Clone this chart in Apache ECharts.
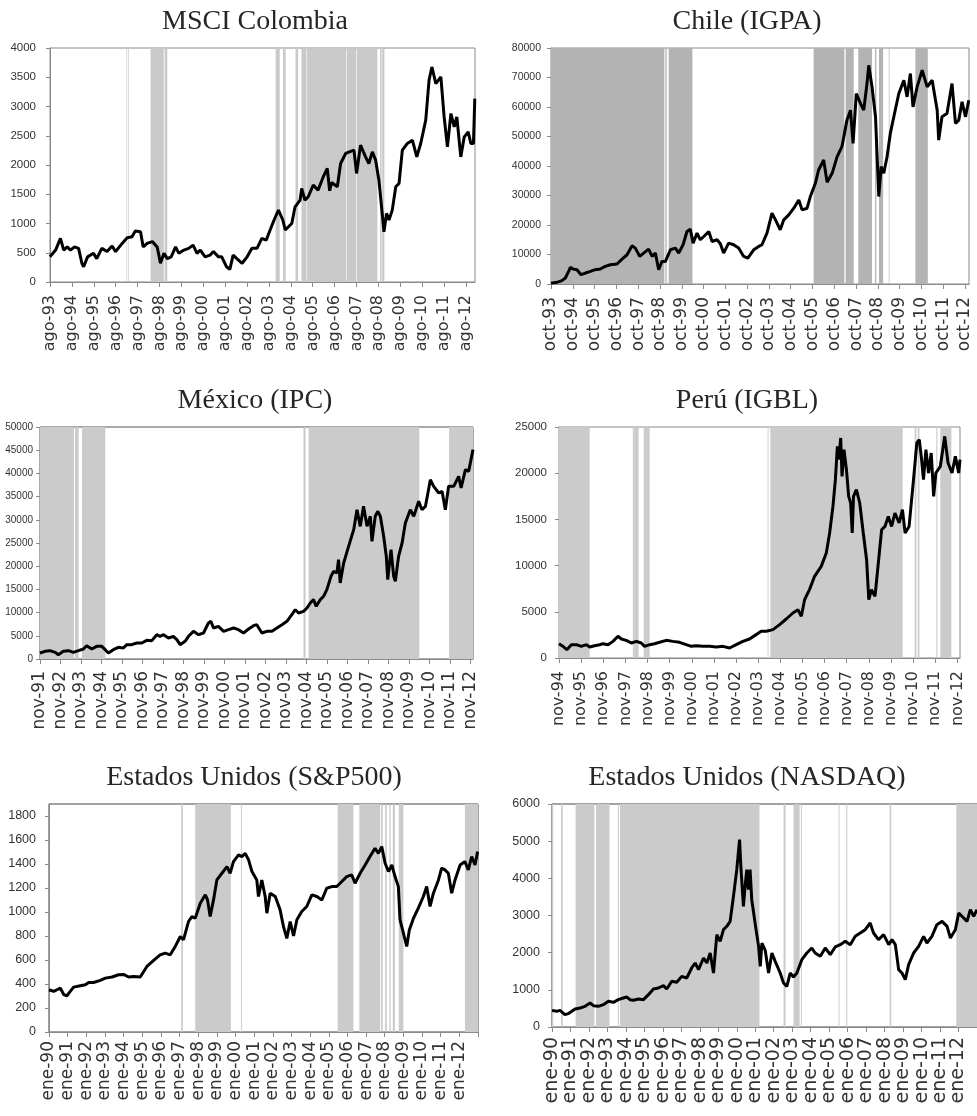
<!DOCTYPE html>
<html>
<head>
<meta charset="utf-8">
<script src="https://cdn.jsdelivr.net/npm/echarts@6/dist/echarts.min.js"></script>
<style>
html, body { margin: 0; padding: 0; background: #fff; }
#chart { width: 977px; height: 1116px; }
</style>
</head>
<body>
<div id="chart"></div>
<script>
// values: [decimal year, index level]
const colombiaLine = [[1993.58,432],[1993.84,546],[1994.06,745],[1994.21,546],[1994.37,600],[1994.52,546],[1994.70,600],[1994.89,575],[1995.04,320],[1995.12,260],[1995.30,430],[1995.57,490],[1995.72,400],[1995.95,575],[1996.19,520],[1996.42,615],[1996.58,520],[1996.88,660],[1997.11,757],[1997.33,775],[1997.48,870],[1997.72,860],[1997.84,600],[1998.02,660],[1998.26,690],[1998.48,600],[1998.63,320],[1998.79,490],[1998.94,400],[1999.12,430],[1999.32,600],[1999.47,490],[1999.70,546],[1999.92,575],[2000.12,630],[2000.30,490],[2000.45,546],[2000.67,430],[2000.90,460],[2001.05,520],[2001.28,430],[2001.43,430],[2001.65,260],[2001.80,215],[2001.95,460],[2002.12,400],[2002.36,320],[2002.59,430],[2002.81,575],[2003.04,575],[2003.26,745],[2003.46,715],[2003.64,890],[2003.82,1060],[2004.02,1230],[2004.22,1060],[2004.33,890],[2004.48,945],[2004.63,1000],[2004.78,1285],[2005.01,1400],[2005.08,1600],[2005.23,1400],[2005.38,1457],[2005.61,1656],[2005.83,1570],[2006.07,1800],[2006.25,1940],[2006.36,1560],[2006.45,1700],[2006.71,1627],[2006.86,2026],[2007.09,2197],[2007.47,2253],[2007.59,1856],[2007.77,2339],[2008.00,2139],[2008.15,2026],[2008.31,2225],[2008.46,2083],[2008.61,1741],[2008.76,1173],[2008.84,859],[2008.96,1173],[2009.07,1058],[2009.22,1229],[2009.38,1627],[2009.53,1685],[2009.68,2253],[2009.91,2368],[2010.14,2424],[2010.34,2139],[2010.52,2368],[2010.75,2766],[2010.90,3448],[2011.03,3676],[2011.21,3392],[2011.44,3505],[2011.59,2822],[2011.74,2310],[2011.90,2880],[2012.05,2651],[2012.17,2822],[2012.35,2139],[2012.51,2481],[2012.69,2566],[2012.81,2368],[2012.93,2368],[2012.99,3135]];
const colombiaBands = [[1997.08,1997.11],[1997.15,1997.18],[1998.18,1998.78],[1998.82,1998.94],[2003.89,2004.08],[2004.23,2004.35],[2004.80,2004.92],[2005.07,2005.30],[2005.33,2007.12],[2007.15,2007.58],[2007.61,2008.54],[2008.66,2008.73],[2008.76,2008.86]];
const colombiaLabels = ['ago-93','ago-94','ago-95','ago-96','ago-97','ago-98','ago-99','ago-00','ago-01','ago-02','ago-03','ago-04','ago-05','ago-06','ago-07','ago-08','ago-09','ago-10','ago-11','ago-12'];

const chileLine = [[1993.75,300],[1994.03,560],[1994.25,1130],[1994.41,2030],[1994.56,4280],[1994.64,5630],[1994.76,5070],[1994.94,4850],[1995.13,3150],[1995.33,3720],[1995.56,4280],[1995.78,4850],[1996.01,5070],[1996.24,5970],[1996.47,6535],[1996.78,6760],[1997.01,8450],[1997.24,9915],[1997.47,12960],[1997.62,12170],[1997.82,9350],[1998.00,10480],[1998.23,11830],[1998.39,9350],[1998.54,10480],[1998.69,4850],[1998.84,7660],[1999.00,7660],[1999.23,11600],[1999.46,12170],[1999.61,10480],[1999.81,13300],[1999.99,17800],[2000.14,18590],[2000.27,13860],[2000.45,17240],[2000.60,14990],[2000.76,16110],[2000.99,17800],[2001.14,14420],[2001.37,14990],[2001.52,13630],[2001.67,10480],[2001.90,13860],[2002.13,13300],[2002.36,12170],[2002.59,9350],[2002.78,8790],[2003.05,11600],[2003.28,12730],[2003.43,13300],[2003.66,17240],[2003.89,24000],[2004.05,21750],[2004.27,18370],[2004.43,21750],[2004.66,23440],[2004.89,25690],[2005.12,28500],[2005.27,25130],[2005.50,25690],[2005.65,29640],[2005.88,34140],[2006.03,38650],[2006.26,42030],[2006.42,34500],[2006.65,37520],[2006.88,43160],[2007.10,46540],[2007.33,55550],[2007.49,58930],[2007.61,47660],[2007.76,64570],[2007.95,61190],[2008.10,58930],[2008.25,67950],[2008.33,74140],[2008.48,66820],[2008.64,56680],[2008.79,29640],[2008.90,39780],[2009.02,37520],[2009.17,43160],[2009.32,51040],[2009.48,56680],[2009.71,64570],[2009.94,69070],[2010.09,63440],[2010.24,71330],[2010.36,60060],[2010.55,66820],[2010.78,72450],[2011.01,66820],[2011.24,69070],[2011.47,58930],[2011.54,48790],[2011.69,56680],[2011.92,57810],[2012.15,67950],[2012.31,54420],[2012.46,55550],[2012.61,61750],[2012.77,56680],[2012.92,62310]];
const chileBands = [[1993.75,1998.95],[1999.00,1999.06],[1999.15,2000.24],[2005.80,2007.21],[2007.27,2007.64],[2007.85,2008.48],[2008.62,2008.68],[2008.80,2008.99],[2009.25,2009.28],[2010.47,2011.04]];
const chileLabels = ['oct-93','oct-94','oct-95','oct-96','oct-97','oct-98','oct-99','oct-00','oct-01','oct-02','oct-03','oct-04','oct-05','oct-06','oct-07','oct-08','oct-09','oct-10','oct-11','oct-12'];

const mexicoLine = [[1991.83,1290],[1992.08,1650],[1992.32,1800],[1992.57,1440],[1992.73,930],[1992.97,1650],[1993.22,1800],[1993.46,1440],[1993.71,1800],[1993.95,2150],[1994.11,2870],[1994.36,2150],[1994.60,2730],[1994.85,2730],[1995.01,2010],[1995.17,1290],[1995.41,2010],[1995.66,2510],[1995.90,2370],[1996.07,3090],[1996.31,3090],[1996.55,3450],[1996.80,3450],[1997.04,4020],[1997.29,3950],[1997.53,5240],[1997.69,4890],[1997.86,5240],[1998.10,4530],[1998.34,4890],[1998.51,4170],[1998.67,3090],[1998.91,3810],[1999.08,4890],[1999.32,5960],[1999.57,5240],[1999.81,5600],[2000.05,7760],[2000.17,8120],[2000.30,6680],[2000.54,7040],[2000.79,5960],[2001.03,6320],[2001.28,6680],[2001.52,6320],[2001.76,5600],[2002.01,6470],[2002.25,7180],[2002.41,7400],[2002.66,5600],[2002.90,5960],[2003.15,5960],[2003.39,6680],[2003.64,7400],[2003.88,8120],[2004.12,9550],[2004.29,10630],[2004.45,9910],[2004.69,10270],[2004.86,10990],[2005.02,12070],[2005.18,12790],[2005.31,11350],[2005.51,12790],[2005.67,13510],[2005.83,14940],[2006.03,17820],[2006.16,18890],[2006.32,18530],[2006.40,21410],[2006.48,16380],[2006.65,20690],[2006.89,24280],[2007.14,27870],[2007.30,32180],[2007.46,28590],[2007.62,32900],[2007.79,28590],[2007.95,30750],[2008.03,25360],[2008.19,30750],[2008.32,31830],[2008.44,30750],[2008.60,26440],[2008.73,22130],[2008.80,17100],[2008.96,23560],[2009.09,17820],[2009.17,16740],[2009.33,22130],[2009.50,25000],[2009.66,29310],[2009.90,32180],[2010.07,30750],[2010.31,33980],[2010.47,32180],[2010.64,32900],[2010.88,38650],[2011.04,37220],[2011.29,35780],[2011.45,36140],[2011.61,32180],[2011.77,37220],[2012.02,37220],[2012.26,39370],[2012.38,36860],[2012.59,40810],[2012.75,40450],[2012.96,45120]];
const mexicoBands = [[1991.83,1993.49],[1993.54,1993.72],[1993.88,1995.02],[2004.69,2004.79],[2004.94,2010.34],[2011.79,2012.96]];
const mexicoLabels = ['nov-91','nov-92','nov-93','nov-94','nov-95','nov-96','nov-97','nov-98','nov-99','nov-00','nov-01','nov-02','nov-03','nov-04','nov-05','nov-06','nov-07','nov-08','nov-09','nov-10','nov-11','nov-12'];

const peruLine = [[1994.83,1550],[1995.01,1260],[1995.19,900],[1995.39,1440],[1995.62,1440],[1995.84,1260],[1996.07,1440],[1996.22,1190],[1996.44,1330],[1996.67,1440],[1996.82,1550],[1997.05,1440],[1997.27,1800],[1997.50,2350],[1997.65,2060],[1997.87,1910],[1998.10,1620],[1998.33,1800],[1998.55,1620],[1998.70,1260],[1998.93,1440],[1999.15,1550],[1999.38,1700],[1999.68,1910],[1999.98,1800],[2000.28,1700],[2000.58,1440],[2000.81,1260],[2001.03,1330],[2001.34,1260],[2001.64,1260],[2001.94,1190],[2002.24,1260],[2002.54,1080],[2002.84,1440],[2003.14,1800],[2003.44,2060],[2003.74,2530],[2003.97,2890],[2004.20,2890],[2004.50,3070],[2004.80,3610],[2005.10,4220],[2005.40,4870],[2005.63,5230],[2005.78,4510],[2005.93,6310],[2006.15,7400],[2006.38,8840],[2006.68,9913],[2006.91,11364],[2007.06,13528],[2007.21,16407],[2007.32,19297],[2007.41,22900],[2007.47,21461],[2007.56,23810],[2007.62,19654],[2007.71,22543],[2007.82,20379],[2007.92,17489],[2008.01,16775],[2008.08,13528],[2008.14,17489],[2008.27,18214],[2008.42,16775],[2008.58,13528],[2008.73,10638],[2008.83,6310],[2008.95,7392],[2009.11,6667],[2009.26,10281],[2009.41,13885],[2009.56,14242],[2009.71,15325],[2009.86,14242],[2010.01,15692],[2010.20,14610],[2010.35,16050],[2010.47,13528],[2010.65,14242],[2010.85,19297],[2011.00,23268],[2011.11,23629],[2011.20,21821],[2011.30,19297],[2011.41,22543],[2011.53,20021],[2011.65,22186],[2011.76,17489],[2011.86,20021],[2012.06,20735],[2012.26,23990],[2012.41,21100],[2012.59,20021],[2012.74,21821],[2012.89,20021],[2012.95,21461]];
const peruBands = [[1994.83,1996.22],[1998.17,1998.22],[1998.23,1998.43],[1998.66,1998.93],[2004.26,2004.30],[2004.38,2010.36],[2010.90,2010.98],[2011.04,2011.12],[2011.88,2011.93],[2012.06,2012.56]];
const peruLabels = ['nov-94','nov-95','nov-96','nov-97','nov-98','nov-99','nov-00','nov-01','nov-02','nov-03','nov-04','nov-05','nov-06','nov-07','nov-08','nov-09','nov-10','nov-11','nov-12'];

const spLine = [[1990.00,352],[1990.25,338],[1990.43,352],[1990.61,366],[1990.79,311],[1990.96,302],[1991.14,338],[1991.32,374],[1991.68,386],[1991.95,394],[1992.13,413],[1992.39,413],[1992.75,430],[1993.02,449],[1993.38,458],[1993.73,477],[1994.00,480],[1994.27,458],[1994.54,463],[1994.89,458],[1995.25,546],[1995.61,596],[1995.96,643],[1996.23,657],[1996.50,643],[1996.77,713],[1997.04,796],[1997.21,768],[1997.48,921],[1997.66,962],[1997.84,948],[1998.11,1073],[1998.38,1143],[1998.50,1101],[1998.64,962],[1998.82,1101],[1999.00,1267],[1999.27,1323],[1999.54,1378],[1999.71,1323],[1999.89,1420],[2000.16,1476],[2000.34,1462],[2000.52,1489],[2000.70,1434],[2000.88,1337],[2001.14,1267],[2001.23,1129],[2001.41,1267],[2001.59,1129],[2001.68,990],[2001.86,1157],[2002.13,1129],[2002.39,1018],[2002.57,879],[2002.75,780],[2002.93,921],[2003.11,800],[2003.29,935],[2003.55,1004],[2003.82,1046],[2004.09,1143],[2004.36,1129],[2004.63,1101],[2004.89,1198],[2005.16,1212],[2005.43,1212],[2005.70,1254],[2005.96,1295],[2006.23,1309],[2006.41,1240],[2006.68,1323],[2006.95,1392],[2007.21,1462],[2007.48,1531],[2007.66,1489],[2007.84,1545],[2008.02,1406],[2008.20,1337],[2008.38,1392],[2008.55,1295],[2008.73,1212],[2008.82,935],[2009.00,824],[2009.18,713],[2009.32,851],[2009.54,948],[2009.80,1032],[2010.07,1129],[2010.25,1212],[2010.43,1046],[2010.61,1157],[2010.88,1267],[2011.05,1365],[2011.23,1351],[2011.41,1323],[2011.59,1157],[2011.77,1267],[2012.04,1392],[2012.30,1420],[2012.48,1351],[2012.66,1462],[2012.84,1392],[2012.98,1503]];
const spBands = [[1997.09,1997.18],[1997.84,1999.75],[2000.29,2000.34],[2005.48,2006.32],[2006.64,2007.75],[2007.80,2007.89],[2008.02,2008.11],[2008.25,2008.32],[2008.43,2008.55],[2008.75,2009.00],[2012.30,2013.00]];
const spLabels = ['ene-90','ene-91','ene-92','ene-93','ene-94','ene-95','ene-96','ene-97','ene-98','ene-99','ene-00','ene-01','ene-02','ene-03','ene-04','ene-05','ene-06','ene-07','ene-08','ene-09','ene-10','ene-11','ene-12'];

const nasdaqLine = [[1990.00,448],[1990.25,422],[1990.43,448],[1990.52,484],[1990.70,332],[1990.88,359],[1991.07,422],[1991.25,484],[1991.52,511],[1991.79,556],[1992.06,646],[1992.24,574],[1992.51,556],[1992.78,601],[1993.05,691],[1993.32,664],[1993.59,735],[1993.86,780],[1994.04,807],[1994.22,735],[1994.41,718],[1994.68,753],[1994.95,735],[1995.22,870],[1995.49,1022],[1995.76,1049],[1996.03,1112],[1996.21,1022],[1996.48,1229],[1996.75,1202],[1997.02,1363],[1997.29,1318],[1997.56,1588],[1997.75,1722],[1997.93,1543],[1998.20,1857],[1998.38,1722],[1998.56,1991],[1998.74,1453],[1998.92,2484],[1999.10,2305],[1999.28,2619],[1999.46,2709],[1999.64,2843],[1999.82,3516],[2000.00,4233],[2000.15,5041],[2000.22,4323],[2000.36,3247],[2000.45,3785],[2000.54,4233],[2000.63,3695],[2000.72,4233],[2000.81,3426],[2000.99,2798],[2001.18,2170],[2001.27,1632],[2001.36,2260],[2001.54,2063],[2001.72,1453],[2001.90,1991],[2002.08,1767],[2002.35,1453],[2002.53,1184],[2002.71,1094],[2002.89,1453],[2003.07,1345],[2003.25,1453],[2003.52,1812],[2003.79,1991],[2004.06,2126],[2004.24,1991],[2004.52,1901],[2004.79,2126],[2005.06,1946],[2005.33,2153],[2005.60,2215],[2005.87,2305],[2006.14,2215],[2006.41,2440],[2006.68,2529],[2006.95,2619],[2007.22,2798],[2007.40,2529],[2007.67,2350],[2007.95,2484],[2008.22,2215],[2008.40,2350],[2008.58,2215],[2008.76,1543],[2008.94,1453],[2009.12,1274],[2009.30,1677],[2009.57,1991],[2009.84,2170],[2010.11,2440],[2010.29,2260],[2010.56,2440],[2010.83,2753],[2011.11,2843],[2011.38,2709],[2011.56,2395],[2011.83,2619],[2012.01,3067],[2012.28,2933],[2012.46,2843],[2012.64,3157],[2012.82,2978],[2013.00,3157]];
const nasdaqBands = [[1990.00,1990.07],[1990.49,1990.58],[1991.28,1992.29],[1992.38,1993.11],[1993.56,1993.62],[1993.68,2001.23],[2002.53,2002.64],[2003.07,2003.40],[2003.47,2003.52],[2005.51,2005.56],[2005.92,2005.98],[2008.27,2008.36],[2011.88,2013.00]];
const nasdaqLabels = spLabels;

const SANS = '"Liberation Sans", Arial, sans-serif';

const panels = [
  { title: 'MSCI Colombia', line: colombiaLine, bands: colombiaBands, labels: colombiaLabels,
    xMin: 1993 + 7 / 12, xMax: 2013.0, yMax: 4000, yStep: 500, bandColor: '#c9c9c9', border: '#8a8a8a',
    box: [50, 48, 425, 234], titleAt: [255, 22], xFont: 16, xMargin: 13, yFont: 11.5, yMargin: 14 },
  { title: 'Chile (IGPA)', line: chileLine, bands: chileBands, labels: chileLabels,
    xMin: 1993 + 9 / 12, xMax: 2012.93, yMax: 80000, yStep: 10000, bandColor: '#b3b3b3', border: '#8a8a8a',
    box: [551, 48, 418, 236], titleAt: [747, 22], xFont: 17, xMargin: 13, yFont: 10.5, yMargin: 10 },
  { title: 'México (IPC)', line: mexicoLine, bands: mexicoBands, labels: mexicoLabels,
    xMin: 1991 + 10 / 12, xMax: 2012.96, yMax: 50000, yStep: 5000, bandColor: '#cbcbcb', border: '#555555',
    box: [40, 427, 433, 232], titleAt: [255, 401], xFont: 17, xMargin: 12, yFont: 10, yMargin: 7 },
  { title: 'Perú (IGBL)', line: peruLine, bands: peruBands, labels: peruLabels,
    xMin: 1994 + 10 / 12, xMax: 2012.95, yMax: 25000, yStep: 5000, bandColor: '#cbcbcb', border: '#8a8a8a',
    box: [559, 427, 401, 231], titleAt: [747, 401], xFont: 16, xMargin: 13, yFont: 11.5, yMargin: 12 },
  { title: 'Estados Unidos (S&P500)', line: spLine, bands: spBands, labels: spLabels,
    xMin: 1990, xMax: 2013, yMax: 1900, yStep: 200, bandColor: '#cbcbcb', border: '#444444',
    box: [49, 804, 429, 228], titleAt: [254, 778], xFont: 17, xMargin: 9, yFont: 12.5, yMargin: 13, edgeTick: true },
  { title: 'Estados Unidos (NASDAQ)', line: nasdaqLine, bands: nasdaqBands, labels: nasdaqLabels,
    xMin: 1990, xMax: 2013, yMax: 6000, yStep: 1000, bandColor: '#cbcbcb', border: '#444444',
    box: [552, 804, 425, 223], titleAt: [747, 778], xFont: 19, xMargin: 10, yFont: 12.5, yMargin: 12, edgeTick: true },
];

function tickYears(p) {
  const ticks = p.labels.map((_, i) => p.xMin + i);
  if (p.edgeTick) ticks.push(p.xMax);
  return ticks;
}

// labels split over two stacked axes (even / odd) so that the tight
// rotated labels are never dropped by the min/max overlap check
function labelYears(p, parity) {
  return p.labels.map((_, k) => p.xMin + k).filter((_, k) => k % 2 === parity);
}

function yTicks(p) {
  const ticks = [];
  for (let v = 0; v <= p.yMax; v += p.yStep) ticks.push(v);
  return ticks;
}

function xAxisFor(p, i, parity) {
  const main = parity === 0;
  return {
    type: 'value', gridIndex: i, position: 'bottom', offset: 0, min: p.xMin, max: p.xMax,
    axisLine: { show: main, lineStyle: { color: '#8a8a8a', width: 1 } },
    axisTick: { show: main, length: 5, lineStyle: { color: '#8a8a8a' }, customValues: tickYears(p) },
    axisLabel: {
      rotate: 90, margin: p.xMargin, fontSize: p.xFont, color: '#333',
      fontFamily: '"DejaVu Sans", sans-serif',
      showMinLabel: true, showMaxLabel: true,
      customValues: labelYears(p, parity),
      formatter: (v) => p.labels[Math.round(v - p.xMin)] || '',
    },
    splitLine: { show: false },
  };
}

const chart = echarts.init(document.getElementById('chart'), null, { renderer: 'canvas' });

const option = {
  animation: false,
  backgroundColor: '#fff',
  grid: panels.map((p) => ({
    left: p.box[0], top: p.box[1], width: p.box[2], height: p.box[3],
    show: true, borderColor: p.border, borderWidth: 1, backgroundColor: 'transparent',
    containLabel: false, outerBoundsMode: 'none',
  })),
  xAxis: panels.flatMap((p, i) => [xAxisFor(p, i, 0), xAxisFor(p, i, 1)]),
  yAxis: panels.map((p, i) => ({
    type: 'value', gridIndex: i, min: 0, max: p.yMax,
    axisLine: { show: true, lineStyle: { color: '#8a8a8a', width: 1 } },
    axisTick: { show: true, length: 4, lineStyle: { color: '#8a8a8a' }, customValues: yTicks(p) },
    axisLabel: {
      margin: p.yMargin, fontSize: p.yFont, color: '#333', fontFamily: SANS,
      showMinLabel: true, showMaxLabel: true,
      customValues: yTicks(p),
      formatter: (v) => String(Math.round(v)),
    },
    splitLine: { show: false },
  })),
  series: panels.map((p, i) => ({
    type: 'line', xAxisIndex: 2 * i, yAxisIndex: i,
    data: p.line, showSymbol: false, symbol: 'none',
    lineStyle: { color: '#000', width: 3 },
    clip: true,
    markArea: {
      silent: true,
      itemStyle: { color: p.bandColor },
      data: p.bands.map((b) => [{ xAxis: b[0] }, { xAxis: b[1] }]),
    },
  })),
  graphic: panels.map((p) => ({
    type: 'text', x: p.titleAt[0], y: p.titleAt[1],
    style: {
      text: p.title, fill: '#262626', align: 'center', verticalAlign: 'middle',
      font: '28px "Liberation Serif", "DejaVu Serif", serif',
    },
  })),
};

chart.setOption(option);
</script>
</body>
</html>
